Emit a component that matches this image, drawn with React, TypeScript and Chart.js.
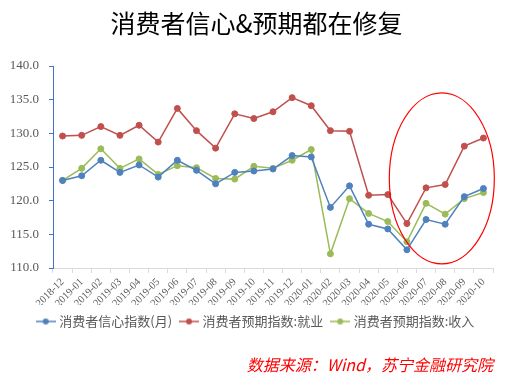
import React, { useEffect, useRef } from "react";
import { Chart, registerables } from "chart.js";

Chart.register(...registerables);

const categories = [
  "2018-12", "2019-01", "2019-02", "2019-03", "2019-04", "2019-05", "2019-06",
  "2019-07", "2019-08", "2019-09", "2019-10", "2019-11", "2019-12", "2020-01",
  "2020-02", "2020-03", "2020-04", "2020-05", "2020-06", "2020-07", "2020-08",
  "2020-09", "2020-10",
];
const confidence = [
  123.0, 123.7, 126.0, 124.2, 125.3, 123.5, 126.0, 124.5, 122.5, 124.2, 124.4,
  124.7, 126.7, 126.5, 119.0, 122.2, 116.5, 115.8, 112.7, 117.2, 116.5, 120.6, 121.8,
];
const employment = [
  129.6, 129.7, 131.0, 129.7, 131.2, 128.7, 133.7, 130.4, 127.8, 132.9, 132.2,
  133.2, 135.3, 134.1, 130.4, 130.3, 120.8, 120.9, 116.6, 121.9, 122.4, 128.1, 129.3,
];
const income = [
  123.0, 124.8, 127.7, 124.8, 126.2, 123.9, 125.2, 124.9, 123.3, 123.2, 125.1,
  124.8, 126.0, 127.6, 112.1, 120.3, 118.1, 116.9, 113.9, 119.6, 118.0, 120.3, 121.2,
];
const seriesNames = ["消费者信心指数(月)", "消费者预期指数:就业", "消费者预期指数:收入"];
const seriesColors = ["#4F81BD", "#C0504D", "#9BBB59"];
const titleText = "消费者信心&预期都在修复";
const sourceText = "数据来源：Wind，苏宁金融研究院";
// highlighted region (category index range, value range)
const highlightX = [17.08, 22.57];
const highlightY = [110.6, 136.0];

function legendIcon(color: string): HTMLCanvasElement {
  const c = document.createElement("canvas");
  c.width = 20;
  c.height = 8;
  const ctx = c.getContext("2d")!;
  ctx.strokeStyle = color;
  ctx.lineWidth = 1.5;
  ctx.beginPath();
  ctx.moveTo(0, 4);
  ctx.lineTo(20, 4);
  ctx.stroke();
  ctx.fillStyle = color;
  ctx.beginPath();
  ctx.arc(10, 4, 3, 0, Math.PI * 2);
  ctx.fill();
  return c;
}

const ellipsePlugin = {
  id: "highlightEllipse",
  afterDatasetsDraw(chart: any) {
    const xs = chart.scales.x;
    const ys = chart.scales.y;
    const x1 = xs.getPixelForValue(highlightX[0]);
    const x2 = xs.getPixelForValue(highlightX[1]);
    const y1 = ys.getPixelForValue(highlightY[0]);
    const y2 = ys.getPixelForValue(highlightY[1]);
    const ctx = chart.ctx;
    ctx.save();
    ctx.strokeStyle = "#FF0000";
    ctx.lineWidth = 1.2;
    ctx.beginPath();
    ctx.ellipse((x1 + x2) / 2, (y1 + y2) / 2, Math.abs(x2 - x1) / 2, Math.abs(y2 - y1) / 2, 0, 0, Math.PI * 2);
    ctx.stroke();
    ctx.restore();
  },
};

export default function App() {
  const ref = useRef<HTMLCanvasElement>(null);
  useEffect(() => {
    document.body.style.margin = "0";
    const icons = seriesColors.map(legendIcon);
    const data = [confidence, employment, income];
    const chart = new Chart(ref.current!, {
      type: "line",
      data: {
        labels: categories,
        datasets: seriesNames.map((name, i) => ({
          label: name,
          data: data[i],
          borderColor: seriesColors[i],
          backgroundColor: seriesColors[i],
          pointBackgroundColor: seriesColors[i],
          pointBorderColor: seriesColors[i],
          borderWidth: 1.5,
          pointRadius: 3,
          pointBorderWidth: 1,
          tension: 0,
        })),
      },
      options: {
        responsive: false,
        animation: false,
        layout: { padding: { left: 0, right: 4, top: 0, bottom: 0 } },
        scales: {
          x: {
            offset: true,
            grid: { drawOnChartArea: false, drawTicks: true, tickLength: 5, color: "#D9D9D9", offset: true },
            border: { color: "#D9D9D9" },
            ticks: {
              minRotation: 45,
              maxRotation: 45,
              autoSkip: false,
              padding: 3,
              color: "#595959",
              font: { family: "'Liberation Serif', serif", size: 10.5 },
            },
            afterFit: (s: any) => {
              s.height = 37;
            },
          },
          y: {
            min: 110,
            max: 140,
            grid: { drawOnChartArea: false, drawTicks: true, tickLength: 4, color: "#4472C4" },
            border: { color: "#4472C4" },
            ticks: {
              stepSize: 5,
              padding: 10,
              color: "#595959",
              font: { family: "'Liberation Serif', serif", size: 13 },
              callback: (v: any) => Number(v).toFixed(1),
            },
            afterFit: (s: any) => {
              s.width = 53;
            },
          },
          spacer: {
            type: "linear",
            position: "right",
            display: true,
            grid: { display: false, drawTicks: false },
            border: { display: false },
            ticks: { display: false },
            afterFit: (s: any) => {
              s.width = 20;
            },
          },
        },
        plugins: {
          title: {
            display: true,
            text: titleText,
            color: "#000000",
            font: { family: "'Noto Sans CJK SC', sans-serif", size: 25, weight: "normal", lineHeight: 1.2 },
            padding: { top: 8, bottom: 28 },
          },
          subtitle: {
            display: true,
            fullSize: false,
            position: "bottom",
            align: "end",
            text: sourceText,
            color: "#FF0000",
            font: { family: "'Noto Sans CJK SC', sans-serif", size: 16, style: "italic", lineHeight: 1.2 },
            padding: { top: 17.4, bottom: 8.4 },
          },
          legend: {
            position: "bottom",
            labels: {
              usePointStyle: true,
              pointStyleWidth: 14,
              padding: 10,
              color: "#595959",
              font: { family: "'Noto Sans CJK SC', sans-serif", size: 13 },
              generateLabels: (c: any) =>
                Chart.defaults.plugins.legend.labels.generateLabels(c).map((item: any, i: number) => ({
                  ...item,
                  pointStyle: icons[i],
                })),
            },
          },
          tooltip: { enabled: false },
        },
      },
      plugins: [ellipsePlugin],
    } as any);
    return () => chart.destroy();
  }, []);
  return (
    <div style={{ width: 517, height: 383 }}>
      <canvas ref={ref} width={517} height={383} />
    </div>
  );
}
